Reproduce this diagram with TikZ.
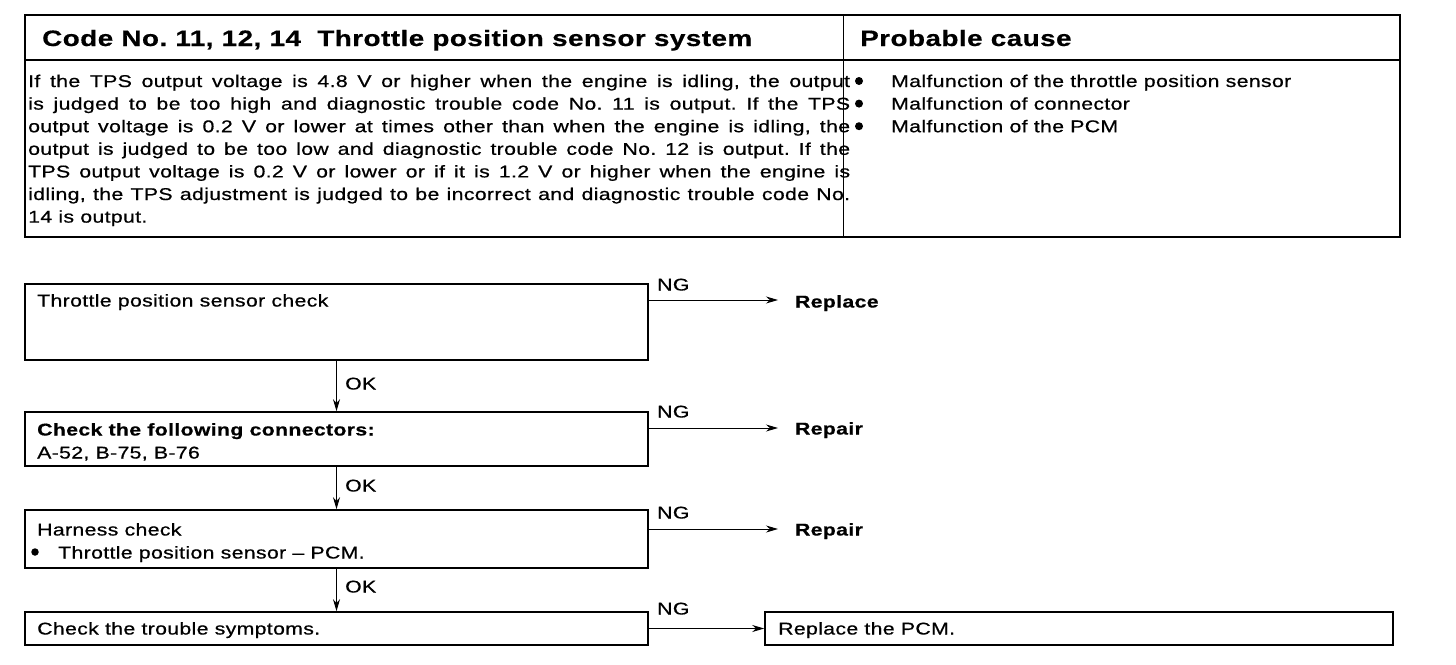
\documentclass[tikz,border=0pt]{standalone}
\usepackage{fontspec}
\setmainfont{Liberation Sans}[FakeStretch=1.25,LetterSpace=2,UprightFeatures={FakeBold=0.7},BoldFeatures={FakeBold=0.5}]
\usetikzlibrary{arrows.meta}
\newcommand\bodyf{\fontsize{17}{22.6}\selectfont}
\newcommand\flowf{\fontsize{17}{23}\selectfont}
\newcommand\headf{\fontsize{22.3}{28}\selectfont\bfseries}
\newcommand\jl[1]{\hbox to 822pt{#1}}
\frenchspacing
\begin{document}
\begin{tikzpicture}[x=1pt,y=-1pt,
  txt/.style={inner sep=0pt, anchor=base west},
  dot/.style={circle, fill, inner sep=0pt, minimum size=8pt},
  stepbox/.style={draw, line width=1.6pt, inner sep=0pt},
  result/.style={inner sep=0pt, outer xsep=17pt, anchor=base west, font=\flowf\bfseries},
  arr/.style={line width=1pt, -{Stealth[length=12pt,width=7pt]}},
  lbl/.style={inner sep=0pt, anchor=base west, font=\flowf}]
\useasboundingbox (0,0) rectangle (1456,664);
% ---- table ----
\draw[line width=2pt] (25,15) rectangle (1400,237);
\draw[line width=1.6pt] (25,60) -- (1400,60);
\draw[line width=1pt] (843,15) -- (843,237);
\node[txt] (h1) at (42,46) {\headf Code No. 11, 12, 14\ \ Throttle position sensor system};
\node[txt] (h2) at (860,46) {\headf Probable cause};
\node[txt] (p1) at (28,87) {\bodyf\jl{If the TPS output voltage is 4.8 V or higher when the engine is idling, the output}};
\node[txt] (p2) at (28,109.6) {\bodyf\jl{is judged to be too high and diagnostic trouble code No. 11 is output. If the TPS}};
\node[txt] (p3) at (28,132.2) {\bodyf\jl{output voltage is 0.2 V or lower at times other than when the engine is idling, the}};
\node[txt] (p4) at (28,154.8) {\bodyf\jl{output is judged to be too low and diagnostic trouble code No. 12 is output. If the}};
\node[txt] (p5) at (28,177.4) {\bodyf\jl{TPS output voltage is 0.2 V or lower or if it is 1.2 V or higher when the engine is}};
\node[txt] (p6) at (28,200) {\bodyf\jl{idling, the TPS adjustment is judged to be incorrect and diagnostic trouble code No.}};
\node[txt] (p7) at (28,222.6) {\bodyf 14 is output.};
\node[dot] (c1b) at (859,81) {};
\node[dot] (c2b) at (859,103.6) {};
\node[dot] (c3b) at (859,126.2) {};
\node[txt] (c1) at (891,87) {\bodyf Malfunction of the throttle position sensor};
\node[txt] (c2) at (891,109.6) {\bodyf Malfunction of connector};
\node[txt] (c3) at (891,132.2) {\bodyf Malfunction of the PCM};
% ---- flow ----
\node[stepbox, minimum width=623pt, minimum height=76pt] (b1) at (336.5,322) {};
\node[stepbox, minimum width=623pt, minimum height=54pt] (b2) at (336.5,439) {};
\node[stepbox, minimum width=623pt, minimum height=58pt] (b3) at (336.5,539) {};
\node[stepbox, minimum width=623pt, minimum height=33pt] (b4) at (336.5,628.5) {};
\node[stepbox, minimum width=628pt, minimum height=33pt] (b5) at (1079,628.5) {};
\node[lbl] (t1) at (37,306.5) {Throttle position sensor check};
\node[lbl] (t2a) at (37,435.5) {\bfseries Check the following connectors:};
\node[lbl] (t2b) at (37,458.5) {A-52, B-75, B-76};
\node[lbl] (t3a) at (37,535.5) {Harness check};
\node[dot, minimum size=7.5pt] (t3d) at (35,552) {};
\node[lbl] (t3b) at (58,558.5) {Throttle position sensor – PCM.};
\node[lbl] (t4) at (37,634.5) {Check the trouble symptoms.};
\node[lbl] (t5) at (778,634.5) {Replace the PCM.};
\node[result] (r1) at (778,307.5) {Replace};
\node[result] (r2) at (778,434.5) {Repair};
\node[result] (r3) at (778,535.5) {Repair};
\coordinate (n1) at (0,300);
\coordinate (n2) at (0,428);
\coordinate (n3) at (0,529);
\draw[arr] (b1.east |- n1) -- (r1.west |- n1);
\draw[arr] (b2.east |- n2) -- (r2.west |- n2);
\draw[arr] (b3.east |- n3) -- (r3.west |- n3);
\draw[arr] (b4.east) -- (b5.west);
\node[lbl] (g1) at (657,290.5) {NG};
\node[lbl] (g2) at (657,417.5) {NG};
\node[lbl] (g3) at (657,518.5) {NG};
\node[lbl] (g4) at (657,614.5) {NG};
\draw[arr] (b1.south) -- (b2.north);
\draw[arr] (b2.south) -- (b3.north);
\draw[arr] (b3.south) -- (b4.north);
\node[lbl] (k1) at (345,389.5) {OK};
\node[lbl] (k2) at (345,491.5) {OK};
\node[lbl] (k3) at (345,592.5) {OK};
\end{tikzpicture}
\end{document}
